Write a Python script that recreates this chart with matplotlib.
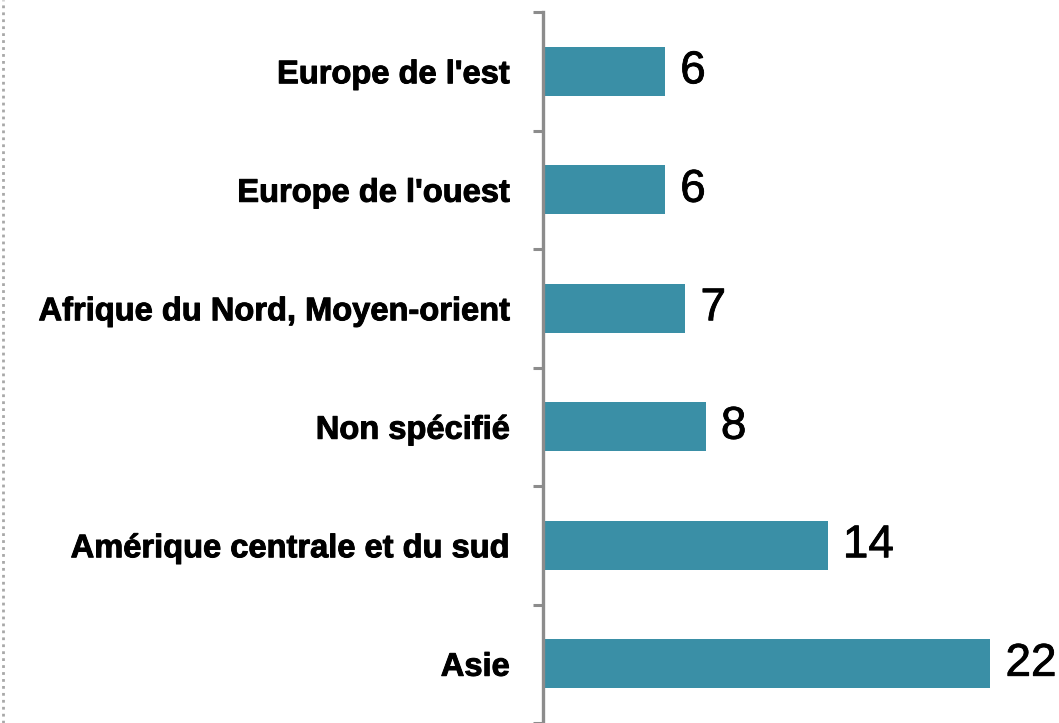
import matplotlib
matplotlib.use("Agg")
import matplotlib.pyplot as plt
import matplotlib.patheffects as pe
from matplotlib.lines import Line2D

# regions, bottom to top
regions = ["Asie", "Amérique centrale et du sud", "Non spécifié",
           "Afrique du Nord, Moyen-orient", "Europe de l'ouest", "Europe de l'est"]
values = [22, 14, 8, 7, 6, 6]

bar_color = "#3A8FA6"
axis_color = "#8C8C8C"

plt.rcParams['font.family'] = ['Liberation Sans', 'DejaVu Sans']

fig = plt.figure(figsize=(10.59, 7.23), dpi=100)
ax = fig.add_axes([543 / 1059, 0, 516 / 1059, (723 - 12) / 723])

pos = list(range(len(regions)))
ax.barh(pos, values, height=0.41, color=bar_color)
ax.set_ylim(-0.5, len(regions) - 0.5)
ax.set_xlim(0, 516 / 20.33)

# value labels
for p, v in zip(pos, values):
    ax.text(v + 0.75, p, str(v), va='center', ha='left', fontsize=33, color='black',
            path_effects=[pe.withStroke(linewidth=0.6, foreground='black')])

ax.set_yticks(pos)
ax.set_yticklabels(regions, fontsize=23.5, fontweight='bold')
for lbl in ax.get_yticklabels():
    lbl.set_path_effects([pe.withStroke(linewidth=0.7, foreground='black')])
# tick marks sit between categories
ax.set_yticks([p - 0.5 for p in pos] + [len(regions) - 0.5], minor=True)
ax.tick_params(axis='y', which='major', length=0, pad=24)
ax.tick_params(axis='y', which='minor', length=7.5, width=2.2, color=axis_color)
ax.set_xticks([])

for s in ['top', 'right', 'bottom']:
    ax.spines[s].set_visible(False)
ax.spines['left'].set_color(axis_color)
ax.spines['left'].set_linewidth(2.4)

# dotted frame edge on the left
fig.add_artist(Line2D([2.5 / 1059, 2.5 / 1059], [0, 1], transform=fig.transFigure,
                      color='#A8A8A8', linestyle=(0, (1, 1.5)), linewidth=2))

fig.savefig("out.png", dpi=100)
